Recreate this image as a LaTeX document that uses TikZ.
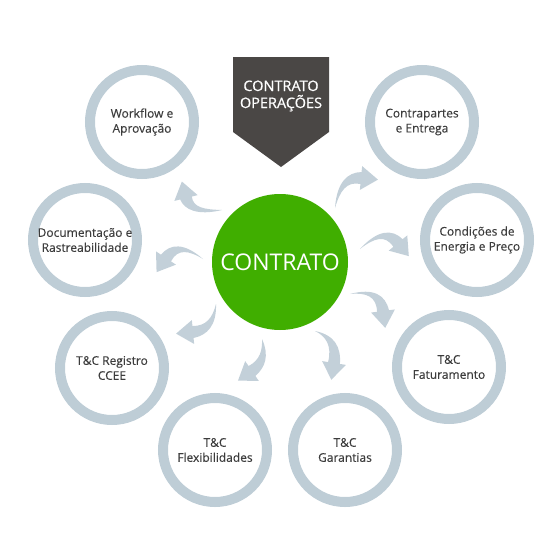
\documentclass[tikz,border=0pt]{standalone}
\usepackage{fontspec}
\setmainfont{Open Sans}
\newfontfamily\heavyfont{Open Sans}[FakeBold=0.6]
\newfontfamily\labelfont{Open Sans}[FakeBold=0.25]
\usetikzlibrary{calc}

\definecolor{ringgray}{RGB}{190,205,214}
\definecolor{arrowgray}{RGB}{195,208,217}
\definecolor{mossgreen}{RGB}{64,174,0}
\definecolor{bannergray}{RGB}{74,71,69}
\definecolor{labelgray}{RGB}{60,60,60}

% tapered curved arrow: tail, corner, head base
\newcommand{\swoosh}[3]{%
  \fill[arrowgray] (#1)
    .. controls ($($(#1)!0.667!(#2)$)!4.5pt!-90:(#3)$) and ($($(#3)!0.667!(#2)$)!4.5pt!-90:(#3)$) .. ($(#3)!6pt!90:(#2)$)
    -- ($(#3)!12pt!90:(#2)$) -- ($(#3)!-17pt!(#2)$) -- ($(#3)!12pt!-90:(#2)$)
    -- ($(#3)!6pt!-90:(#2)$)
    .. controls ($($(#3)!0.667!(#2)$)!4.5pt!90:(#3)$) and ($($(#1)!0.667!(#2)$)!4.5pt!90:(#3)$) .. (#1) -- cycle;
}

\tikzset{
  ring/.style={circle, draw=ringgray, line width=10pt, minimum size=104pt,
    inner sep=0pt, align=center, text=labelgray,
    font=\labelfont\fontsize{12}{15}\selectfont},
  hub/.style={circle, fill=mossgreen, minimum size=136pt, inner sep=0pt,
    text=white, font=\fontsize{23}{26}\selectfont},
}

\begin{document}
\begin{tikzpicture}[x=1pt, y=-1pt]
    \useasboundingbox (0,0) rectangle (560,560);

    % Banner on top
    \fill[bannergray] (233,57) -- (329,57) -- (329,132) -- (281,167) -- (233,132) -- cycle;
    \node[text=white, align=center, font=\heavyfont\fontsize{14.5}{17}\selectfont] (banner) at (281,96) {CONTRATO\\OPERAÇÕES};

    % Central circle
    \node[hub] (contrato) at (280,262) {CONTRATO};

    % Surrounding rings
    \node[ring] (workflow) at (142,122) {Workflow e\\Aprovação};
    \node[ring] (contrapartes) at (422,122) {Contrapartes\\e Entrega};
    \node[ring] (documentacao) at (85,240) {Documentação e\\Rastreabilidade};
    \node[ring] (condicoes) at (477,240) {Condições de\\Energia e Preço};
    \node[ring] (registro) at (112,368) {T\&C Registro\\CCEE};
    \node[ring] (faturamento) at (449,367) {T\&C\\Faturamento};
    \node[ring] (flexibilidades) at (215,450) {T\&C\\Flexibilidades};
    \node[ring] (garantias) at (345,450) {T\&C\\Garantias};

    % Arrow coordinates: tail, corner, head base
    \coordinate (wT) at (222,210); \coordinate (wC) at (190,214); \coordinate (wB) at (186,198);
    \coordinate (dT) at (203,259); \coordinate (dC) at (178,240); \coordinate (dB) at (166,258);
    \coordinate (cT) at (335,208); \coordinate (cC) at (340,176); \coordinate (cB) at (361,178);
    \coordinate (eT) at (360,249); \coordinate (eC) at (384,226); \coordinate (eB) at (398,243);
    \coordinate (fT) at (350,294); \coordinate (fC) at (380,288); \coordinate (fB) at (383,311);
    \coordinate (gT) at (315,331); \coordinate (gC) at (338,338); \coordinate (gB) at (334,363);
    \coordinate (xT) at (262,339); \coordinate (xC) at (268,360); \coordinate (xB) at (252,371);
    \coordinate (rT) at (216,304); \coordinate (rC) at (214,330); \coordinate (rB) at (193,332);

    % Curved arrows
    \swoosh{wT}{wC}{wB}
    \swoosh{dT}{dC}{dB}
    \swoosh{cT}{cC}{cB}
    \swoosh{eT}{eC}{eB}
    \swoosh{fT}{fC}{fB}
    \swoosh{gT}{gC}{gB}
    \swoosh{xT}{xC}{xB}
    \swoosh{rT}{rC}{rB}
\end{tikzpicture}
\end{document}
